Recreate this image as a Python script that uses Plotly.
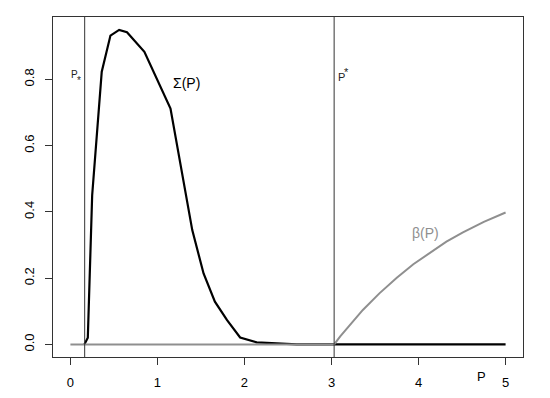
import plotly.graph_objects as go

# Sigma(P) curve (black)
sigma_p = [0.16, 0.20, 0.25, 0.36, 0.46, 0.56, 0.65, 0.85, 1.15, 1.36, 1.40, 1.53, 1.66,
           1.80, 1.95, 2.14, 2.37, 2.60, 3.03, 4.0, 5.0]
sigma_v = [0.0, 0.02, 0.45, 0.823, 0.932, 0.949, 0.942, 0.883, 0.712, 0.395, 0.345, 0.214,
           0.129, 0.073, 0.021, 0.006, 0.003, 0.0, 0.0, 0.0, 0.0]

# beta(P) curve (grey)
beta_p = [0.0, 1.0, 2.0, 3.03, 3.1, 3.2, 3.36, 3.55, 3.75, 3.94, 4.13, 4.32, 4.51, 4.75, 5.0]
beta_v = [0.0, 0.0, 0.0, 0.0, 0.024, 0.056, 0.104, 0.154, 0.201, 0.242, 0.277, 0.310,
          0.338, 0.370, 0.398]

p_low = 0.164
p_star = 3.03
xticks = [0, 1, 2, 3, 4, 5]
yticks = [0.0, 0.2, 0.4, 0.6, 0.8]

grey = "#8f8f8f"
fig = go.Figure()
fig.add_trace(go.Scatter(x=sigma_p, y=sigma_v, mode="lines",
                         line=dict(color="black", width=2.2), showlegend=False))
fig.add_trace(go.Scatter(x=beta_p, y=beta_v, mode="lines",
                         line=dict(color=grey, width=2), showlegend=False))

for xv in [p_low, p_star]:
    fig.add_shape(type="line", x0=xv, x1=xv, y0=0, y1=1, xref="x", yref="paper",
                  line=dict(color="#333333", width=1))

fnt = "Liberation Sans, Arial, sans-serif"
# P with subscript star, P with superscript star
fig.add_annotation(x=0.05, y=0.815, text="P", showarrow=False,
                   font=dict(size=10, color="#222", family=fnt))
fig.add_annotation(x=0.10, y=0.797, text="*", showarrow=False,
                   font=dict(size=10, color="#222", family=fnt))
fig.add_annotation(x=p_star + 0.02, y=0.807, text="P", showarrow=False, xanchor="left",
                   font=dict(size=11, color="#222", family=fnt))
fig.add_annotation(x=p_star + 0.09, y=0.822, text="*", showarrow=False, xanchor="left",
                   font=dict(size=11, color="#222", family=fnt))
fig.add_annotation(x=1.33, y=0.79, text="Σ(P)", showarrow=False,
                   font=dict(size=14, color="black", family=fnt))
fig.add_annotation(x=4.08, y=0.335, text="β(P)", showarrow=False,
                   font=dict(size=14, color=grey, family=fnt))
fig.add_annotation(x=4.72, y=-0.085, xref="x", yref="paper", text="P", showarrow=False,
                   font=dict(size=13, color="black", family=fnt))

fig.update_layout(
    width=550, height=398,
    margin=dict(l=53, r=27, t=17, b=41),
    plot_bgcolor="white", paper_bgcolor="white",
    font=dict(family=fnt, size=13, color="black"),
)
fig.update_xaxes(range=[-0.2, 5.2], tickvals=xticks, ticktext=[str(v) for v in xticks],
                 showgrid=False, zeroline=False, showline=True, mirror=True,
                 linecolor="#333", linewidth=1, ticks="outside", ticklen=7,
                 tickcolor="#333", ticklabelstandoff=6, automargin=False)
fig.update_yaxes(range=[-0.038, 0.988], tickvals=yticks,
                 ticktext=["%.1f" % v for v in yticks], tickangle=-90,
                 showgrid=False, zeroline=False, showline=True, mirror=True,
                 linecolor="#333", linewidth=1, ticks="outside", ticklen=7,
                 tickcolor="#333", ticklabelstandoff=6, automargin=False)

fig.write_html("out.html", config={"displayModeBar": False},
               post_script="document.body.style.margin='0';")
